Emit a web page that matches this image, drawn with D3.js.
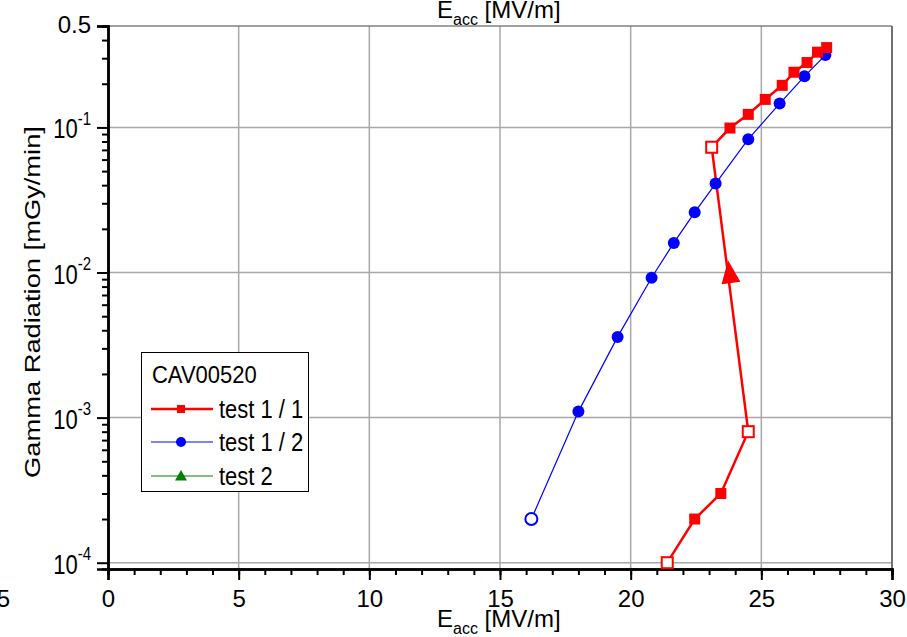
<!DOCTYPE html>
<html>
<head>
<meta charset="utf-8">
<script src="https://cdn.jsdelivr.net/npm/d3@7"></script>
<style>
  body { margin: 0; background: #fff; }
  svg { display: block; font-family: "Liberation Sans", Arial, sans-serif; }
</style>
</head>
<body>
<svg id="chart" width="907" height="637"></svg>
<script>
// test 1 / 1 : red squares, in measurement order (open = hollow marker)
const test11Eacc = [21.4, 22.45, 23.45, 24.5, 23.1, 23.8, 24.5, 25.15, 25.8, 26.25, 26.75, 27.15, 27.5];
const test11Gamma = [1.0e-4, 2.0e-4, 3.0e-4, 8.0e-4, 0.073, 0.099, 0.123, 0.156, 0.195, 0.24, 0.28, 0.33, 0.355];
const test11Open = [true, false, false, true, true, false, false, false, false, false, false, false, false];

// test 1 / 2 : blue circles
const test12Eacc = [16.2, 18.0, 19.5, 20.8, 21.65, 22.45, 23.25, 24.5, 25.7, 26.65, 27.45];
const test12Gamma = [2.0e-4, 1.1e-3, 3.6e-3, 9.2e-3, 0.016, 0.026, 0.041, 0.083, 0.146, 0.225, 0.315];
const test12Open = [true, false, false, false, false, false, false, false, false, false, false];

// direction arrow drawn on the test 1 / 1 curve
const arrowEacc = [23.8];
const arrowGamma = [0.0096];

// axis ticks
const xMajorTicks = [0, 5, 10, 15, 20, 25, 30];
const xMinorTicks = d3.range(0, 31, 1);
const yMajorTicks = [1e-4, 1e-3, 1e-2, 1e-1, 0.5];
const yMajorLabels = [["10", "-4"], ["10", "-3"], ["10", "-2"], ["10", "-1"], ["0.5", ""]];

const legendTitle = "CAV00520";
const legendNames = ["test 1 / 1", "test 1 / 2", "test 2"];

const svg = d3.select('#chart');

const x = d3.scaleLinear().domain([0, 30]).range([108, 892]);
const y = d3.scaleLog().domain([9.05e-5, 0.5]).range([569, 26]);

const yMinorTicks = [];
[1e-5, 1e-4, 1e-3, 1e-2, 1e-1].forEach(d => {
  for (let k = 2; k <= 9; k++) {
    const v = d * k;
    if (v >= y.domain()[0] && v < 0.5) yMinorTicks.push(v);
  }
});

// grid
const grid = svg.append('g').attr('stroke', '#a8a8a8').attr('stroke-width', 1.5);
grid.selectAll('line.gx')
  .data(xMajorTicks.filter(d => d > 0 && d < 30))
  .join('line')
  .attr('x1', d => x(d)).attr('x2', d => x(d))
  .attr('y1', y.range()[0]).attr('y2', y.range()[1]);
grid.selectAll('line.gy')
  .data(yMajorTicks.filter(d => d < 0.5))
  .join('line')
  .attr('x1', x.range()[0]).attr('x2', x.range()[1])
  .attr('y1', d => y(d)).attr('y2', d => y(d));

// frame top / right
svg.append('line')
  .attr('x1', x.range()[0]).attr('x2', x.range()[1])
  .attr('y1', y.range()[1]).attr('y2', y.range()[1])
  .attr('stroke', '#808080').attr('stroke-width', 1.5);
svg.append('line')
  .attr('x1', x.range()[1]).attr('x2', x.range()[1])
  .attr('y1', y.range()[0]).attr('y2', y.range()[1])
  .attr('stroke', '#707070').attr('stroke-width', 2);

// x axis
const xMinor = svg.append('g')
  .attr('transform', `translate(0,${y.range()[0]})`)
  .call(d3.axisBottom(x).tickValues(xMinorTicks).tickSize(6).tickFormat(''));
const xMajor = svg.append('g')
  .attr('transform', `translate(0,${y.range()[0]})`)
  .call(d3.axisBottom(x).tickValues(xMajorTicks).tickSize(11).tickPadding(10).tickFormat(d3.format('d')));
[xMinor, xMajor].forEach(g => {
  g.select('.domain').attr('stroke', '#000').attr('stroke-width', 2.5);
  g.selectAll('.tick line').attr('stroke', '#000').attr('stroke-width', 2);
});
xMajor.selectAll('.tick text').attr('font-size', 24).attr('fill', '#000')
  .attr('font-family', '"Liberation Sans", Arial, sans-serif');

// cut-off "-5" label at the far left
svg.append('text').attr('x', 10).attr('y', 607)
  .attr('text-anchor', 'end').attr('font-size', 24).text('-5');

// y axis
const yMinor = svg.append('g')
  .attr('transform', `translate(${x.range()[0]},0)`)
  .call(d3.axisLeft(y).tickValues(yMinorTicks).tickSize(6).tickFormat(''));
const yMajor = svg.append('g')
  .attr('transform', `translate(${x.range()[0]},0)`)
  .call(d3.axisLeft(y).tickValues(yMajorTicks).tickSize(11).tickFormat(''));
[yMinor, yMajor].forEach(g => {
  g.select('.domain').attr('stroke', '#000').attr('stroke-width', 2.5);
  g.selectAll('.tick line').attr('stroke', '#000').attr('stroke-width', 2);
});

yMajorTicks.forEach((v, i) => {
  const [base, exp] = yMajorLabels[i];
  if (exp) {
    const t = svg.append('text')
      .attr('transform', `translate(91,${y(v) + 11}) scale(1,1.25)`)
      .attr('text-anchor', 'end');
    t.append('tspan').attr('font-size', 22).text(base);
    t.append('tspan').attr('font-size', 15).attr('dy', -11).text(exp);
  } else {
    svg.append('text')
      .attr('x', 91).attr('y', y(v) + 7)
      .attr('text-anchor', 'end').attr('font-size', 24).text(base);
  }
});

// axis titles
function eaccTitle(yBase) {
  const t = svg.append('text').attr('x', 437).attr('y', yBase).attr('font-size', 24);
  t.append('tspan').text('E');
  t.append('tspan').attr('font-size', 16).attr('dy', 7).text('acc');
  t.append('tspan').attr('dy', -7).text(' [MV/m]');
}
eaccTitle(627);
eaccTitle(18);

svg.append('text')
  .attr('transform', 'translate(40,302) rotate(-90) scale(1.27,1)')
  .attr('text-anchor', 'middle')
  .attr('font-size', 21.5)
  .text('Gamma Radiation [mGy/min]');

// series
const line = d3.line().x(d => x(d[0])).y(d => y(d[1]));

const red = '#ff0000', blue = '#0000ff', green = '#008000';

const s12 = test12Eacc.map((e, i) => [e, test12Gamma[i], test12Open[i]]);
const s11 = test11Eacc.map((e, i) => [e, test11Gamma[i], test11Open[i]]);

svg.append('path').datum(s12)
  .attr('fill', 'none').attr('stroke', blue).attr('stroke-width', 1.2)
  .attr('d', line);
svg.append('path').datum(s11)
  .attr('fill', 'none').attr('stroke', red).attr('stroke-width', 2.5)
  .attr('d', line);

svg.selectAll('circle.t12').data(s12).join('circle')
  .attr('cx', d => x(d[0])).attr('cy', d => y(d[1]))
  .attr('r', d => d[2] ? 6 : 6)
  .attr('fill', d => d[2] ? '#fff' : blue)
  .attr('stroke', blue).attr('stroke-width', d => d[2] ? 2 : 0);

svg.selectAll('rect.t11').data(s11).join('rect')
  .attr('x', d => x(d[0]) - 5.5).attr('y', d => y(d[1]) - 5.5)
  .attr('width', 11).attr('height', 11)
  .attr('fill', d => d[2] ? '#fff' : red)
  .attr('stroke', red).attr('stroke-width', d => d[2] ? 2 : 0);

// arrow oriented along the segment it sits on
const a0 = [x(test11Eacc[3]), y(test11Gamma[3])];
const a1 = [x(test11Eacc[4]), y(test11Gamma[4])];
const ang = Math.atan2(a1[0] - a0[0], a0[1] - a1[1]) * 180 / Math.PI;
svg.selectAll('path.arrow').data(arrowEacc.map((e, i) => [e, arrowGamma[i]])).join('path')
  .attr('transform', d => `translate(${x(d[0])},${y(d[1])}) rotate(${ang})`)
  .attr('d', 'M0,-15L9.5,8L-9.5,8Z')
  .attr('fill', red);

// legend
const lg = svg.append('g');
lg.append('rect').attr('x', 141.5).attr('y', 352.5).attr('width', 167).attr('height', 139)
  .attr('fill', '#fff').attr('stroke', '#000').attr('stroke-width', 1);
lg.append('text').attr('transform', 'translate(152,383) scale(1,1.08)')
  .attr('font-size', 22).text(legendTitle);

const legendColors = [red, blue, green];
const legendWidths = [2.5, 1.2, 1.2];
const legendRows = [409, 442, 476];
legendNames.forEach((name, i) => {
  const ly = legendRows[i];
  lg.append('line').attr('x1', 151).attr('x2', 213).attr('y1', ly).attr('y2', ly)
    .attr('stroke', legendColors[i]).attr('stroke-width', legendWidths[i]);
  if (i === 0) {
    lg.append('rect').attr('x', 177).attr('y', ly - 4).attr('width', 8).attr('height', 8).attr('fill', red);
  } else if (i === 1) {
    lg.append('circle').attr('cx', 181).attr('cy', ly).attr('r', 5).attr('fill', blue);
  } else {
    lg.append('path').attr('transform', `translate(181,${ly})`)
      .attr('d', 'M0,-6L6,4.5L-6,4.5Z').attr('fill', green);
  }
  lg.append('text').attr('transform', `translate(219,${ly + 9}) scale(1,1.15)`)
    .attr('font-size', 22).text(name);
});
</script>
</body>
</html>
